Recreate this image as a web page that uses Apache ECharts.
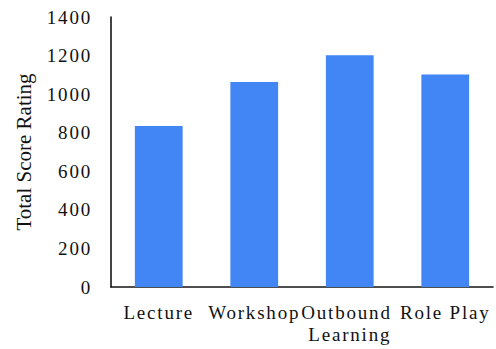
<!DOCTYPE html>
<html>
<head>
<meta charset="utf-8">
<script src="https://cdn.jsdelivr.net/npm/echarts@6/dist/echarts.min.js"></script>
<style>
  html, body { margin: 0; padding: 0; background: #fff; overflow: hidden; }
  #chart { width: 496px; height: 349px; }
  /* tick and category labels are set with a little extra tracking */
  #chart text[style*="19px"] { letter-spacing: 1.8px; }
</style>
</head>
<body>
<div id="chart"></div>
<script>
// Total score rating per teaching method
const categories = ['Lecture', 'Workshop', 'Outbound Learning', 'Role Play'];
const scores = [835, 1063, 1202, 1102];

// value axis range
const yMin = 0;
const yMax = 1400;
const yStep = 200;

const serif = '"Liberation Serif", "Times New Roman", serif';
const textColor = '#111111';
const lineColor = '#151515';

const chart = echarts.init(document.getElementById('chart'), null, { renderer: 'svg' });

chart.setOption({
  animation: false,
  backgroundColor: '#ffffff',
  grid: { left: 111, right: 3, top: 17, bottom: 62, containLabel: false },
  xAxis: {
    type: 'category',
    data: categories,
    axisLine: { show: true, lineStyle: { color: lineColor, width: 1.6 } },
    axisTick: { show: false },
    axisLabel: {
      interval: 0,
      margin: 14,
      color: textColor,
      fontFamily: serif,
      fontSize: 19,
      lineHeight: 22,
      width: 95,
      overflow: 'break'
    },
    splitLine: { show: false }
  },
  yAxis: {
    type: 'value',
    min: yMin,
    max: yMax,
    interval: yStep,
    name: 'Total Score Rating',
    nameLocation: 'middle',
    nameGap: 77,
    nameTextStyle: { color: textColor, fontFamily: serif, fontSize: 21 },
    axisLine: { show: true, lineStyle: { color: lineColor, width: 1.6 } },
    axisTick: { show: false },
    axisLabel: {
      margin: 19,
      color: textColor,
      fontFamily: serif,
      fontSize: 19,
      formatter: (v) => String(v)
    },
    splitLine: { show: false }
  },
  series: [{
    type: 'bar',
    data: scores,
    barWidth: '50%',
    itemStyle: { color: '#4285F4' }
  }]
});
</script>
</body>
</html>
